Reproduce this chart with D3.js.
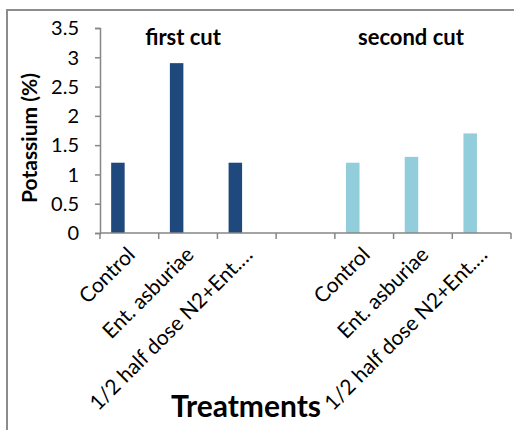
<!DOCTYPE html>
<html>
<head>
<meta charset="utf-8">
<script src="https://cdn.jsdelivr.net/npm/d3@7"></script>
<style>
  body { margin: 0; background: #fff; }
  text { font-family: Lato, "Open Sans", sans-serif; fill: #000; }
  .tick text { font-size: 20px; }
  .cat-label { font-size: 21px; }
  .cut-title { font-size: 22px; font-weight: bold; }
  .axis-title { font-weight: bold; }
</style>
</head>
<body>
<div id="wrapper"></div>
<script>
// 1. Data

const treatments = ["Control", "Ent. asburiae", "1/2 half dose N2+Ent.…"]
const cuts = ["first cut", "second cut"]
const firstCut = [1.2, 2.9, 1.2]
const secondCut = [1.2, 1.3, 1.7]
const yTicks = [0, 0.5, 1, 1.5, 2, 2.5, 3, 3.5]

// slots: first cut treatments, an empty slot, second cut treatments
const slots = [
  ...treatments.map((t, i) => ({ key: "a" + i, label: t, value: firstCut[i], cut: 0 })),
  { key: "gap", label: "", value: null, cut: -1 },
  ...treatments.map((t, i) => ({ key: "b" + i, label: t, value: secondCut[i], cut: 1 })),
]
const cutColors = ["#1f497d", "#92cddc"]

// 2. Dimensions

const dimensions = {
  width: 514,
  height: 430,
  margin: { top: 28, right: 3, bottom: 197, left: 100 },
}
dimensions.boundedWidth = dimensions.width - dimensions.margin.left - dimensions.margin.right
dimensions.boundedHeight = dimensions.height - dimensions.margin.top - dimensions.margin.bottom

// 3. Canvas

const wrapper = d3.select("#wrapper")
  .append("svg")
    .attr("width", dimensions.width)
    .attr("height", dimensions.height)

// chart frame
wrapper.append("rect")
  .attr("x", 7)
  .attr("y", 10)
  .attr("width", 540)
  .attr("height", 460)
  .attr("fill", "none")
  .attr("stroke", "#8c8c8c")
  .attr("stroke-width", 2)

const bounds = wrapper.append("g")
  .attr("transform", `translate(${dimensions.margin.left},${dimensions.margin.top})`)

// 4. Scales

const xScale = d3.scaleBand()
  .domain(slots.map(d => d.key))
  .range([0, dimensions.boundedWidth])
  .padding(0)

const yScale = d3.scaleLinear()
  .domain([0, 3.5])
  .range([dimensions.boundedHeight, 0])

// 5. Bars

const bw = xScale.bandwidth()
bounds.append("g").selectAll("rect")
  .data(slots.filter(d => d.value != null))
  .enter().append("rect")
    .attr("x", d => xScale(d.key) + bw * 0.19)
    .attr("width", bw * 0.23)
    .attr("y", d => yScale(d.value))
    .attr("height", d => dimensions.boundedHeight - yScale(d.value))
    .attr("fill", d => cutColors[d.cut])

// 6. Axes

const yAxis = bounds.append("g")
  .call(d3.axisLeft(yScale).tickValues(yTicks).tickFormat(d3.format("")).tickSize(5).tickPadding(16))
yAxis.select(".domain").attr("stroke", "#868686").attr("stroke-width", 1.5)
yAxis.selectAll(".tick line").attr("stroke", "#868686").attr("stroke-width", 1.5)
yAxis.selectAll(".tick text").attr("font-size", null).attr("font-family", null).attr("dy", "0.34em")

// x axis: line with ticks at band edges
const xAxis = bounds.append("g")
  .attr("transform", `translate(0,${dimensions.boundedHeight})`)
xAxis.append("line")
  .attr("x1", 0)
  .attr("x2", dimensions.boundedWidth)
  .attr("stroke", "#868686")
  .attr("stroke-width", 1.5)
xAxis.selectAll(".xtick")
  .data([...slots.map(d => xScale(d.key)), dimensions.boundedWidth])
  .enter().append("line")
    .attr("x1", d => d)
    .attr("x2", d => d)
    .attr("y1", 0)
    .attr("y2", 6)
    .attr("stroke", "#868686")
    .attr("stroke-width", 1.5)

xAxis.selectAll(".cat-label")
  .data(slots.filter(d => d.label))
  .enter().append("text")
    .attr("class", "cat-label")
    .attr("text-anchor", "end")
    .attr("transform", d => `translate(${xScale(d.key) + bw / 2 + 7},${23}) rotate(-45)`)
    .text(d => d.label)

// cut titles
bounds.append("text")
  .attr("class", "cut-title")
  .attr("x", xScale("a1") + bw / 2 - 5)
  .attr("y", 45 - dimensions.margin.top)
  .attr("text-anchor", "middle")
  .text(cuts[0])
bounds.append("text")
  .attr("class", "cut-title")
  .attr("x", xScale("b1") + bw / 2 - 12)
  .attr("y", 45 - dimensions.margin.top)
  .attr("text-anchor", "middle")
  .text(cuts[1])

// axis titles
wrapper.append("text")
  .attr("class", "axis-title")
  .attr("transform", "translate(37,138) rotate(-90)")
  .attr("text-anchor", "middle")
  .attr("font-size", 21)
  .text("Potassium (%)")

wrapper.append("text")
  .attr("class", "axis-title")
  .attr("x", 246)
  .attr("y", 417)
  .attr("text-anchor", "middle")
  .attr("font-size", 30)
  .text("Treatments")
</script>
</body>
</html>
